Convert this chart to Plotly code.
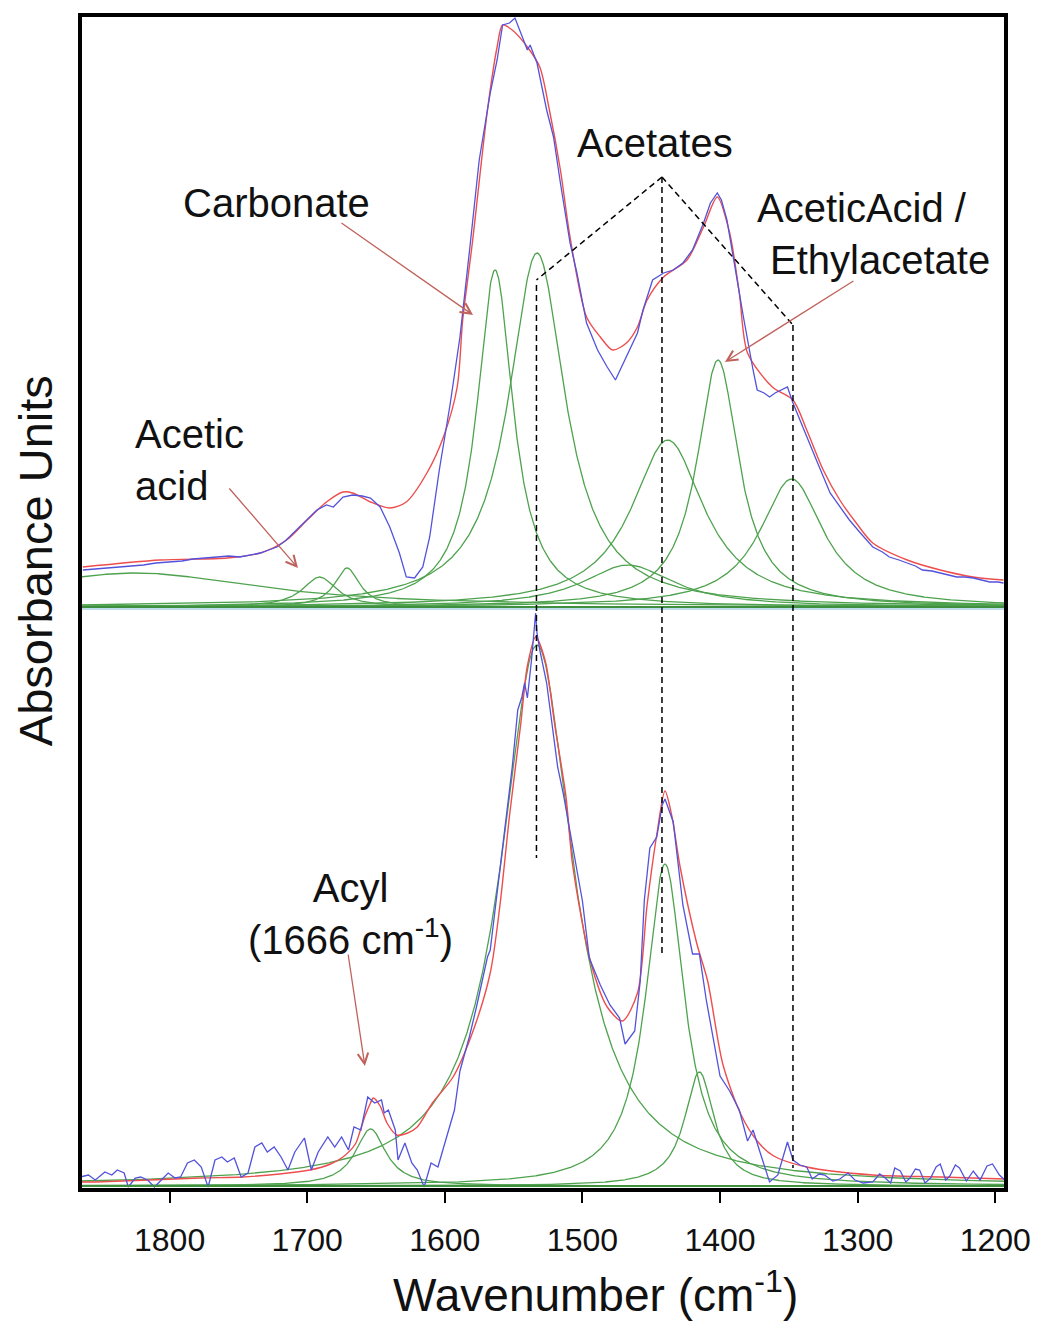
import numpy as np
import plotly.graph_objects as go

# ---------------- axis ----------------
X_RANGE = [1865.1, 1192.2]          # wavenumber, reversed
TICKS = [1800, 1700, 1600, 1500, 1400, 1300, 1200]

# ---------------- upper spectrum ----------------
top_meas_wn = [1863, 1855, 1843, 1831, 1819, 1810, 1800, 1791, 1783, 1774, 1766, 1757, 1749, 1741,
               1734, 1728, 1722, 1716, 1710, 1705, 1700, 1693, 1686, 1681, 1674, 1667, 1660, 1654,
               1647, 1640, 1633, 1628, 1622, 1616, 1611, 1604, 1596, 1589, 1582, 1575, 1567, 1562,
               1558, 1553, 1549, 1545, 1540, 1538, 1533, 1526, 1521, 1516, 1509, 1504, 1497, 1489,
               1482, 1476, 1473, 1468, 1460, 1456, 1449, 1441, 1434, 1427, 1420, 1412, 1407, 1402,
               1399, 1395, 1391, 1383, 1376, 1373, 1368, 1364, 1360, 1356, 1351, 1347, 1340, 1330,
               1320, 1311, 1306, 1298, 1289, 1282, 1277, 1270, 1264, 1258, 1253, 1246, 1240, 1234,
               1228, 1222, 1216, 1210, 1204, 1198, 1194]
top_meas_abs = [37, 38, 39, 41, 42, 44, 45, 46, 48, 49, 50, 51, 50, 52,
                54, 57, 60, 66, 74, 81, 87, 97, 102, 100, 110, 112, 111, 109,
                100, 80, 54, 30, 29, 40, 70, 137, 204, 270, 357, 447, 514, 547,
                582, 584, 589, 574, 557, 562, 544, 497, 470, 424, 364, 334, 284, 257,
                240, 227, 236, 250, 274, 297, 327, 334, 337, 344, 357, 384, 404, 414,
                407, 387, 354, 290, 237, 217, 214, 210, 214, 217, 220, 204, 180, 147,
                114, 97, 87, 74, 60, 55, 50, 47, 44, 41, 37, 36, 34, 32,
                30, 30, 29, 27, 25, 25, 24]

top_fit_wn = [1863, 1807, 1758, 1734, 1715, 1700, 1686, 1674, 1667, 1654, 1640, 1628, 1613, 1601,
              1591, 1587, 1580, 1569, 1562, 1558, 1551, 1540, 1531, 1524, 1516, 1509, 1497, 1487,
              1478, 1468, 1460, 1453, 1441, 1424, 1412, 1402, 1393, 1386, 1380, 1362, 1347, 1337,
              1325, 1313, 1301, 1289, 1264, 1240, 1216, 1194]
top_fit_abs = [40, 47, 49, 54, 67, 87, 105, 115, 114, 105, 99, 105, 134, 170,
               220, 287, 364, 497, 560, 582, 577, 560, 540, 497, 437, 370, 290, 270,
               257, 264, 280, 307, 330, 347, 380, 410, 374, 314, 254, 220, 207, 177,
               137, 107, 84, 64, 47, 37, 30, 27]

# Lorentzian bands of the upper fit
top_band_center = [1825, 1691, 1671, 1563.5, 1533, 1467, 1438, 1401.5, 1348]
top_band_height = [34, 30, 39, 337, 354, 42, 167, 247, 128]
top_band_hwhm = [110, 15, 11, 16, 25, 40, 32, 18.5, 28]

# ---------------- lower spectrum ----------------
bot_meas_wn = [1865, 1859, 1854, 1847, 1842, 1838, 1833, 1830, 1825, 1821, 1816, 1811, 1806, 1801,
               1796, 1792, 1787, 1782, 1777, 1772, 1767, 1762, 1758, 1753, 1748, 1743, 1738, 1733,
               1729, 1724, 1719, 1714, 1709, 1702, 1697, 1692, 1685, 1680, 1675, 1670, 1666, 1661,
               1656, 1651, 1646, 1644, 1641, 1636, 1634, 1629, 1624, 1620, 1615, 1610, 1605, 1600,
               1593, 1589, 1582, 1577, 1569, 1567, 1560, 1555, 1551, 1547, 1544, 1542, 1540, 1537,
               1534, 1533, 1531, 1526, 1521, 1518, 1514, 1509, 1504, 1500, 1495, 1487, 1480, 1473,
               1469, 1462, 1458, 1455, 1451, 1446, 1442, 1440, 1434, 1427, 1420, 1415, 1410, 1405,
               1400, 1393, 1386, 1380, 1376, 1371, 1364, 1358, 1351, 1347, 1342, 1337, 1333, 1328,
               1324, 1318, 1313, 1307, 1302, 1296, 1289, 1284, 1280, 1276, 1273, 1269, 1265, 1262,
               1258, 1255, 1251, 1247, 1243, 1240, 1236, 1233, 1229, 1226, 1221, 1216, 1211, 1206,
               1202, 1197, 1193]
bot_meas_abs = [9, 11, 6, 14, 11, 16, 13, -1, 8, 9, 6, -1, 6, 13,
                8, 9, 23, 26, 19, -1, 26, 29, 24, 28, 9, 13, 39, 43,
                34, 39, 29, 16, 34, 48, 16, 34, 49, 39, 49, 36, 59, 56,
                89, 83, 86, 73, 76, 56, 26, 43, 23, 16, -1, 23, 19, 43,
                76, 115, 150, 179, 229, 236, 316, 369, 419, 476, 489, 503, 488, 526,
                573, 553, 536, 503, 453, 419, 393, 353, 313, 285, 228, 201, 181, 168,
                142, 155, 205, 286, 338, 349, 381, 387, 364, 281, 232, 232, 186, 146,
                110, 95, 76, 45, 56, 34, 4, 11, 44, 26, 21, 19, 7, 12,
                11, 5, 7, 13, 6, 3, 4, 12, 8, 3, 18, 15, 4, 8,
                17, 16, 3, 8, 19, 22, 6, 10, 21, 18, 5, 15, 6, 20,
                22, 11, 6]

bot_fit_wn = [1865, 1854, 1778, 1747, 1720, 1698, 1683, 1674, 1665, 1662, 1658, 1654, 1652, 1647,
              1642, 1635, 1627, 1620, 1609, 1594, 1580, 1567, 1560, 1553, 1545, 1540, 1534, 1527,
              1520, 1512, 1507, 1494, 1482, 1471, 1460, 1453, 1446, 1440, 1435, 1429, 1417, 1409,
              1398, 1385, 1373, 1361, 1337, 1289, 1240, 1193]
bot_fit_abs = [4, 4, 8, 9, 12, 16, 22, 29, 42, 53, 70, 83, 88, 80,
               63, 51, 53, 59, 83, 109, 153, 213, 280, 370, 460, 520, 549, 525,
               460, 390, 320, 224, 179, 165, 193, 281, 351, 395, 370, 319, 243, 205,
               122, 72, 45, 30, 19, 11, 9, 7]

# Lorentzian bands of the lower fit
bot_band_center = [1654, 1533, 1440, 1415]
bot_band_height = [57, 541, 322, 114]
bot_band_hwhm = [13.5, 32, 17, 13]

# ---------------- styling ----------------
BLUE = "#5252dc"
RED = "#ee4d4d"
GREEN = "#4ea24e"
ARROW = "#c0625c"
FONT = "Liberation Sans, Arial, sans-serif"
TXT = "#111111"

wn_grid = np.linspace(X_RANGE[0], X_RANGE[1], 1400)


def lorentz(c, h, w):
    return h / (1.0 + ((wn_grid - c) / w) ** 2)


fig = go.Figure()

# band components
for c, h, w in zip(top_band_center, top_band_height, top_band_hwhm):
    fig.add_trace(go.Scatter(x=wn_grid, y=lorentz(c, h, w), mode="lines", yaxis="y2",
                             line=dict(color=GREEN, width=1.3), hoverinfo="skip"))
for c, h, w in zip(bot_band_center, bot_band_height, bot_band_hwhm):
    fig.add_trace(go.Scatter(x=wn_grid, y=lorentz(c, h, w), mode="lines", yaxis="y",
                             line=dict(color=GREEN, width=1.3), hoverinfo="skip"))

# fitted envelopes
fig.add_trace(go.Scatter(x=top_fit_wn, y=top_fit_abs, mode="lines", yaxis="y2",
                         line=dict(color=RED, width=1.4, shape="spline", smoothing=0.8)))
fig.add_trace(go.Scatter(x=bot_fit_wn, y=bot_fit_abs, mode="lines", yaxis="y",
                         line=dict(color=RED, width=1.4, shape="spline", smoothing=0.8)))

# measured spectra
fig.add_trace(go.Scatter(x=top_meas_wn, y=top_meas_abs, mode="lines", yaxis="y2",
                         line=dict(color=BLUE, width=1.3)))
fig.add_trace(go.Scatter(x=bot_meas_wn, y=bot_meas_abs, mode="lines", yaxis="y",
                         line=dict(color=BLUE, width=1.3)))

shapes = []
# baselines of the two panels
shapes.append(dict(type="line", xref="paper", x0=0, x1=1, yref="y2", y0=-2, y1=-2,
                   line=dict(color="#a9d3e6", width=1.5)))
shapes.append(dict(type="line", xref="paper", x0=0, x1=1, yref="y2", y0=0, y1=0,
                   line=dict(color="#3f8f3f", width=2)))
shapes.append(dict(type="line", xref="paper", x0=0, x1=1, yref="y", y0=0, y1=0,
                   line=dict(color="#3f8f3f", width=2)))

# acetate guide lines
DASH = dict(color="black", width=1.5, dash="6px,4px")
apex = (1442.2, 430)
for (xe, ye) in [(1533.4, 327), (1347.0, 282)]:
    shapes.append(dict(type="line", xref="x", yref="y2", x0=apex[0], y0=apex[1], x1=xe, y1=ye, line=DASH))
for (xv, ytop, ybot) in [(1533.4, 322, -251), (1442.2, 430, -346), (1347.0, 282, -561)]:
    shapes.append(dict(type="line", xref="x", yref="y2", x0=xv, x1=xv, y0=ytop, y1=ybot, line=DASH))

# frame
shapes.append(dict(type="rect", xref="paper", yref="paper", x0=0, x1=1, y0=0, y1=1,
                   line=dict(color="black", width=4)))

lab = dict(family=FONT, size=40, color=TXT)
annotations = [
    dict(x=1722, y=404, xref="x", yref="y2", text="Carbonate", showarrow=False, font=lab),
    dict(x=1447.3, y=464, xref="x", yref="y2", text="Acetates", showarrow=False, font=lab),
    dict(x=1374.6, y=399, xref="x", yref="y2", text="AceticAcid /", showarrow=False,
         xanchor="left", font=lab),
    dict(x=1365.1, y=347, xref="x", yref="y2", text="Ethylacetate", showarrow=False,
         xanchor="left", font=lab),
    dict(x=1826.6, y=147, xref="x", yref="y2", text="Acetic<br>acid", showarrow=False,
         xanchor="left", align="left", font=lab),
    dict(x=1668.9, y=272, xref="x", yref="y", text="Acyl<br>(1666 cm<sup>-1</sup>)",
         showarrow=False, align="center", font=lab),
    # axis titles
    dict(x=0.557, y=-0.087, xref="paper", yref="paper", text="Wavenumber (cm<sup>-1</sup>)",
         xanchor="center", yanchor="middle",
         showarrow=False, font=dict(family=FONT, size=46, color=TXT)),
    dict(x=-0.0486, y=0.536, xref="paper", yref="paper", text="Absorbance Units", textangle=-90,
         xanchor="center", yanchor="middle",
         showarrow=False, font=dict(family=FONT, size=47, color=TXT)),
]

# pointer arrows
arrow_style = dict(showarrow=True, text="", arrowhead=5, arrowsize=1.6, arrowwidth=1.3,
                   arrowcolor=ARROW, axref="x", standoff=0)
annotations += [
    dict(x=1579.5, y=292, xref="x", yref="y2", ax=1676.2, ay=385, ayref="y2", **arrow_style),
    dict(x=1706.7, y=39, xref="x", yref="y2", ax=1757.5, ay=120, ayref="y2", **arrow_style),
    dict(x=1396.4, y=245, xref="x", yref="y2", ax=1302.0, ay=327, ayref="y2", **arrow_style),
    dict(x=1658.1, y=120, xref="x", yref="y", ax=1670.4, ay=233, ayref="y", **arrow_style),
]

fig.update_layout(
    width=1042, height=1325,
    margin=dict(l=80, r=36, t=15, b=135),
    paper_bgcolor="white", plot_bgcolor="white",
    showlegend=False,
    xaxis=dict(range=X_RANGE, tickvals=TICKS, ticktext=[str(t) for t in TICKS],
               ticks="outside", ticklen=12, tickwidth=2, tickcolor="black",
               showgrid=False, zeroline=False, showline=False,
               tickfont=dict(family=FONT, size=32, color=TXT), ticklabelstandoff=10),
    yaxis=dict(range=[-4, 1171], visible=False, showgrid=False, zeroline=False),
    yaxis2=dict(range=[-583, 592], overlaying="y", visible=False, showgrid=False, zeroline=False),
    shapes=shapes,
    annotations=annotations,
)

fig.write_html("out.html")
